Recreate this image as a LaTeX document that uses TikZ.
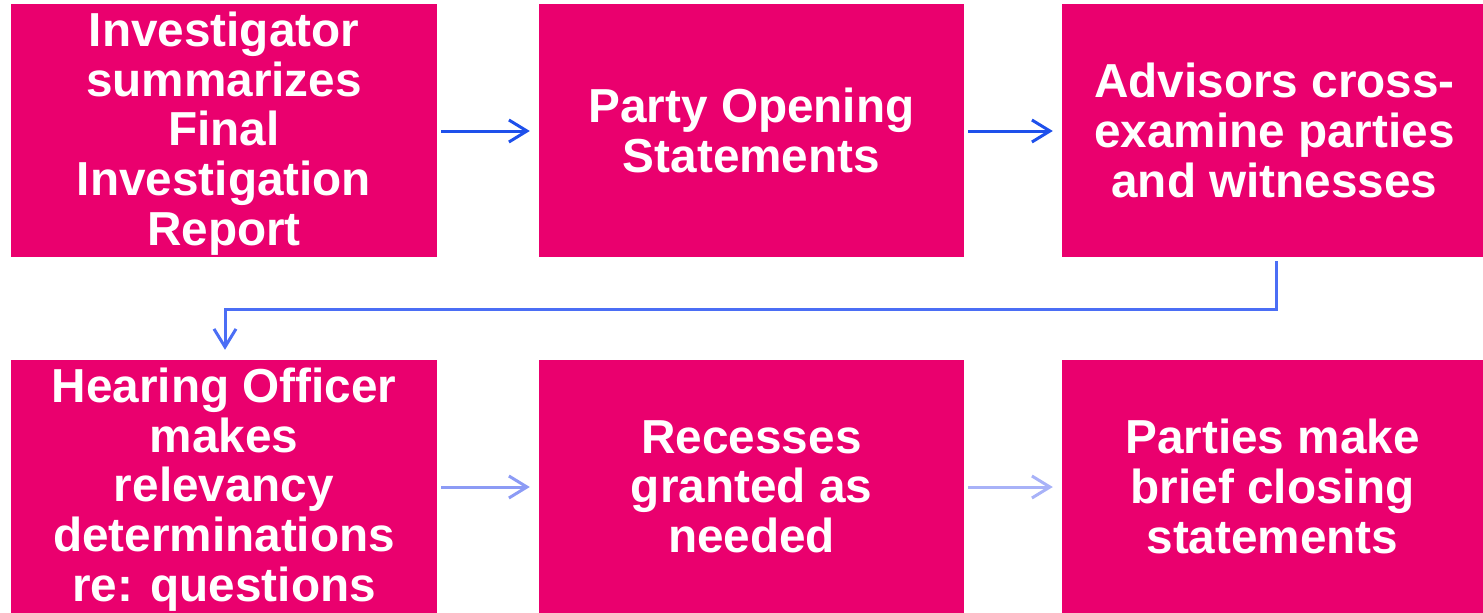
\documentclass[tikz,border=0pt]{standalone}
\usepackage{fontspec}
\setmainfont{Liberation Sans}
\usetikzlibrary{arrows.meta}
\definecolor{boxpink}{RGB}{234,0,110}
\definecolor{flowA}{RGB}{30,80,235}
\definecolor{flowB}{RGB}{75,110,245}
\definecolor{flowC}{RGB}{140,155,245}
\definecolor{flowD}{RGB}{168,178,248}
\tikzset{
  stepbox/.style={fill=boxpink, draw=none, inner sep=0pt, minimum height=253pt},
  steptext/.style={inner sep=0pt, text=white, align=center,
    font=\fontsize{47.7}{49.6}\selectfont\bfseries},
  flow/.style={line width=3pt,
    -{Straight Barb[length=18pt,width=22pt,line width=3pt]},
    shorten <=4pt, shorten >=9pt},
}
\begin{document}
\begin{tikzpicture}[x=1pt,y=-1pt]
\useasboundingbox (0,0) rectangle (1483,613);
% boxes
\node[stepbox, minimum width=426pt] (b1) at (224,130.5) {};
\node[stepbox, minimum width=425pt] (b2) at (751.5,130.5) {};
\node[stepbox, minimum width=421pt] (b3) at (1272.5,130.5) {};
\node[stepbox, minimum width=426pt] (b4) at (224,486.5) {};
\node[stepbox, minimum width=425pt] (b5) at (751.5,486.5) {};
\node[stepbox, minimum width=421pt] (b6) at (1272.5,486.5) {};
% box texts
\node[steptext] (t1) at ([yshift=-3pt]b1.center)
  {Investigator\\summarizes\\Final\\Investigation\\Report};
\node[steptext] (t2) at (b2.center)
  {Party Opening\\Statements};
\node[steptext] (t3) at ([xshift=2pt]b3.center)
  {Advisors cross-\\examine parties\\and witnesses};
\node[steptext] (t4) at ([yshift=-3pt]b4.center)
  {Hearing Officer\\makes\\relevancy\\determinations\\re: questions};
\node[steptext] (t5) at (b5.center)
  {Recesses\\granted as\\needed};
\node[steptext] (t6) at (b6.center)
  {Parties make\\brief closing\\statements};
% connectors
\draw[flow, draw=flowA] (b1.east |- 0,131) -- (b2.west |- 0,131);
\draw[flow, draw=flowA] (b2.east |- 0,131) -- (b3.west |- 0,131);
\coordinate (turnR) at (1276,309);
\coordinate (turnL) at (225,309);
\draw[line width=3pt, draw=flowB, line join=miter,
  -{Straight Barb[length=18pt,width=22pt,line width=3pt]},
  shorten >=10pt]
  (b3.south -| turnR) ++(0,4) -- (turnR) -- (turnL) -- (b4.north -| turnL);
\draw[flow, draw=flowC] (b4.east |- 0,487) -- (b5.west |- 0,487);
\draw[flow, draw=flowD] (b5.east |- 0,487) -- (b6.west |- 0,487);
\end{tikzpicture}
\end{document}
